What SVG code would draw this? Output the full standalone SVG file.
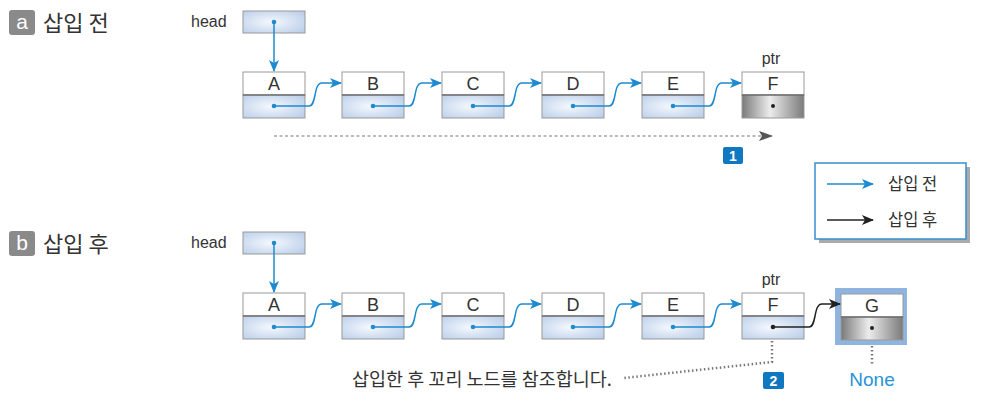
<svg xmlns="http://www.w3.org/2000/svg" width="988" height="402" viewBox="0 0 988 402">
<defs>
<radialGradient id="gb" cx="0.45" cy="0.5" r="0.7">
<stop offset="0" stop-color="#f4f8fd"/><stop offset="1" stop-color="#b9cde9"/>
</radialGradient>
<linearGradient id="gg" x1="0" y1="0" x2="1" y2="0">
<stop offset="0" stop-color="#7a7a7a"/><stop offset="0.45" stop-color="#ececec"/><stop offset="1" stop-color="#7a7a7a"/>
</linearGradient>
<marker id="ab" viewBox="0 0 12 10" refX="11" refY="5" markerWidth="12" markerHeight="10" markerUnits="userSpaceOnUse" orient="auto">
<path d="M0,0 L12,5 L0,10 L3,5 Z" fill="#1e8ad0"/>
</marker>
<marker id="ak" viewBox="0 0 12 10" refX="11" refY="5" markerWidth="12" markerHeight="10" markerUnits="userSpaceOnUse" orient="auto">
<path d="M0,0 L12,5 L0,10 L3,5 Z" fill="#222"/>
</marker>
<marker id="ag" viewBox="0 0 14 10" refX="13" refY="5" markerWidth="14" markerHeight="10" markerUnits="userSpaceOnUse" orient="auto">
<path d="M0,0 L14,5 L0,10 L3,5 Z" fill="#555"/>
</marker>
</defs>
<style>
.top{fill:#fff;stroke:#999;stroke-width:1}
.bot{fill:url(#gb);stroke:#999;stroke-width:1}
.botg{fill:url(#gg);stroke:#999;stroke-width:1}
.sep{stroke:#555;stroke-width:1.2}
.lt{font-family:"Liberation Sans",Arial,sans-serif;font-size:18px;fill:#333;text-anchor:middle}
.sm{font-family:"Liberation Sans",Arial,sans-serif;font-size:16px;fill:#333}
.kr{font-family:"Noto Sans CJK KR","Noto Sans",sans-serif;fill:#333}
.dot{fill:#1e8ad0}
.dotk{fill:#222}
.cb{fill:none;stroke:#1e8ad0;stroke-width:1.5;marker-end:url(#ab)}
.ck{fill:none;stroke:#222;stroke-width:1.5;marker-end:url(#ak)}
.dots{fill:none;stroke:#777;stroke-width:2.5;stroke-dasharray:1.5 2.5}
.badge{fill:#0f78c0}
.bt{font-family:"Liberation Sans",Arial,sans-serif;font-size:14px;font-weight:bold;fill:#fff;text-anchor:middle}
</style>

<!-- titles -->
<g id="title-a">
<rect x="9" y="10" width="26" height="25" rx="3" fill="#8a8a8a"/>
<text x="22" y="29" font-family="Liberation Sans, Arial, sans-serif" font-size="21" fill="#fff" text-anchor="middle">a</text>
<text x="43" y="31" class="kr" font-size="22">삽입 전</text>
</g>
<g id="title-b">
<rect x="9" y="231" width="26" height="25" rx="3" fill="#8a8a8a"/>
<text x="22" y="250" font-family="Liberation Sans, Arial, sans-serif" font-size="21" fill="#fff" text-anchor="middle">b</text>
<text x="43" y="252" class="kr" font-size="22">삽입 후</text>
</g>

<!-- top row -->
<g id="head-a">
<text x="191" y="27" class="sm" font-size="18">head</text>
<rect x="243" y="11" width="62" height="22" class="bot"/>
<circle cx="274" cy="22" r="2.3" class="dot"/>
</g>
<g id="a-A"><rect x="243" y="72" width="62" height="23" class="top"/><rect x="243" y="95" width="62" height="23" class="bot"/><line x1="243" y1="95" x2="305" y2="95" class="sep"/><text x="274" y="90" class="lt">A</text><circle cx="274" cy="106" r="2.3" class="dot"/></g>
<g id="a-B"><rect x="342" y="72" width="62" height="23" class="top"/><rect x="342" y="95" width="62" height="23" class="bot"/><line x1="342" y1="95" x2="404" y2="95" class="sep"/><text x="373" y="90" class="lt">B</text><circle cx="373" cy="106" r="2.3" class="dot"/></g>
<g id="a-C"><rect x="442" y="72" width="62" height="23" class="top"/><rect x="442" y="95" width="62" height="23" class="bot"/><line x1="442" y1="95" x2="504" y2="95" class="sep"/><text x="473" y="90" class="lt">C</text><circle cx="473" cy="106" r="2.3" class="dot"/></g>
<g id="a-D"><rect x="542" y="72" width="62" height="23" class="top"/><rect x="542" y="95" width="62" height="23" class="bot"/><line x1="542" y1="95" x2="604" y2="95" class="sep"/><text x="573" y="90" class="lt">D</text><circle cx="573" cy="106" r="2.3" class="dot"/></g>
<g id="a-E"><rect x="642" y="72" width="62" height="23" class="top"/><rect x="642" y="95" width="62" height="23" class="bot"/><line x1="642" y1="95" x2="704" y2="95" class="sep"/><text x="673" y="90" class="lt">E</text><circle cx="673" cy="106" r="2.3" class="dot"/></g>
<g id="a-F"><text x="771" y="64" class="sm" text-anchor="middle">ptr</text><rect x="742" y="72" width="62" height="23" class="top"/><rect x="742" y="95" width="62" height="23" class="botg"/><line x1="742" y1="95" x2="804" y2="95" class="sep"/><text x="773" y="90" class="lt">F</text><circle cx="773" cy="106" r="2" class="dotk"/></g>

<!-- bottom row -->
<g id="head-b">
<text x="191" y="248" class="sm" font-size="18">head</text>
<rect x="243" y="232" width="62" height="22" class="bot"/>
<circle cx="274" cy="243" r="2.3" class="dot"/>
</g>
<g id="b-A"><rect x="243" y="293" width="62" height="23" class="top"/><rect x="243" y="316" width="62" height="23" class="bot"/><line x1="243" y1="316" x2="305" y2="316" class="sep"/><text x="274" y="311" class="lt">A</text><circle cx="274" cy="327" r="2.3" class="dot"/></g>
<g id="b-B"><rect x="342" y="293" width="62" height="23" class="top"/><rect x="342" y="316" width="62" height="23" class="bot"/><line x1="342" y1="316" x2="404" y2="316" class="sep"/><text x="373" y="311" class="lt">B</text><circle cx="373" cy="327" r="2.3" class="dot"/></g>
<g id="b-C"><rect x="442" y="293" width="62" height="23" class="top"/><rect x="442" y="316" width="62" height="23" class="bot"/><line x1="442" y1="316" x2="504" y2="316" class="sep"/><text x="473" y="311" class="lt">C</text><circle cx="473" cy="327" r="2.3" class="dot"/></g>
<g id="b-D"><rect x="542" y="293" width="62" height="23" class="top"/><rect x="542" y="316" width="62" height="23" class="bot"/><line x1="542" y1="316" x2="604" y2="316" class="sep"/><text x="573" y="311" class="lt">D</text><circle cx="573" cy="327" r="2.3" class="dot"/></g>
<g id="b-E"><rect x="642" y="293" width="62" height="23" class="top"/><rect x="642" y="316" width="62" height="23" class="bot"/><line x1="642" y1="316" x2="704" y2="316" class="sep"/><text x="673" y="311" class="lt">E</text><circle cx="673" cy="327" r="2.3" class="dot"/></g>
<g id="b-F"><text x="771" y="285" class="sm" text-anchor="middle">ptr</text><rect x="742" y="293" width="62" height="23" class="top"/><rect x="742" y="316" width="62" height="23" class="bot"/><line x1="742" y1="316" x2="804" y2="316" class="sep"/><text x="773" y="311" class="lt">F</text><circle cx="773" cy="327" r="2.3" class="dotk"/></g>
<g id="b-G">
<rect x="835" y="288" width="72" height="57" fill="#8fb4e0"/>
<rect x="841" y="294" width="62" height="23" class="top"/><rect x="841" y="317" width="62" height="23" class="botg"/><line x1="841" y1="317" x2="903" y2="317" class="sep"/><text x="872" y="312" class="lt">G</text><circle cx="872" cy="328" r="2" class="dotk"/>
<text x="872" y="386" font-family="Liberation Sans, Arial, sans-serif" font-size="19" fill="#2a93d5" text-anchor="middle">None</text>
</g>

<!-- legend -->
<g id="legend">
<rect x="819" y="167" width="151" height="76" fill="#aaa"/>
<rect x="815" y="163" width="151" height="76" fill="#fff" stroke="#3a8fd0" stroke-width="1.5"/>
<line x1="827" y1="184" x2="873" y2="184" class="cb"/>
<text x="888" y="190" class="kr" font-size="16.5">삽입 전</text>
<line x1="827" y1="220" x2="873" y2="220" class="ck"/>
<text x="888" y="226" class="kr" font-size="16.5">삽입 후</text>
</g>

<!-- connectors -->
<g id="connectors">
<line x1="274" y1="22" x2="274" y2="71" class="cb"/>
<path d="M274,106 H309 C317,106 313,83 322,83 H341" class="cb"/>
<path d="M373,106 H409 C417,106 413,83 422,83 H441" class="cb"/>
<path d="M473,106 H509 C517,106 513,83 522,83 H541" class="cb"/>
<path d="M573,106 H609 C617,106 613,83 622,83 H641" class="cb"/>
<path d="M673,106 H709 C717,106 713,83 722,83 H741" class="cb"/>
<line x1="274" y1="136" x2="772" y2="136" stroke="#777" stroke-width="1.2" stroke-dasharray="3 2.5" marker-end="url(#ag)"/>

<line x1="274" y1="243" x2="274" y2="292" class="cb"/>
<path d="M274,327 H309 C317,327 313,304 322,304 H341" class="cb"/>
<path d="M373,327 H409 C417,327 413,304 422,304 H441" class="cb"/>
<path d="M473,327 H509 C517,327 513,304 522,304 H541" class="cb"/>
<path d="M573,327 H609 C617,327 613,304 622,304 H641" class="cb"/>
<path d="M673,327 H709 C717,327 713,304 722,304 H741" class="cb"/>
<path d="M773,327 H809 C817,327 813,304 822,304 H840" class="ck"/>

<path d="M772,341 V362 L624,378" class="dots"/>
<line x1="872" y1="346" x2="872" y2="366" class="dots"/>
</g>

<!-- badges and notes -->
<g id="badge-1"><rect x="723" y="147" width="20" height="17" rx="2" class="badge"/><text x="733" y="161" class="bt">1</text></g>
<g id="badge-2"><rect x="763" y="372" width="21" height="17" rx="2" class="badge"/><text x="773.5" y="386" class="bt">2</text></g>
<g id="note"><text x="352" y="386" class="kr" font-size="18.5">삽입한 후 꼬리 노드를 참조합니다.</text></g>
</svg>
